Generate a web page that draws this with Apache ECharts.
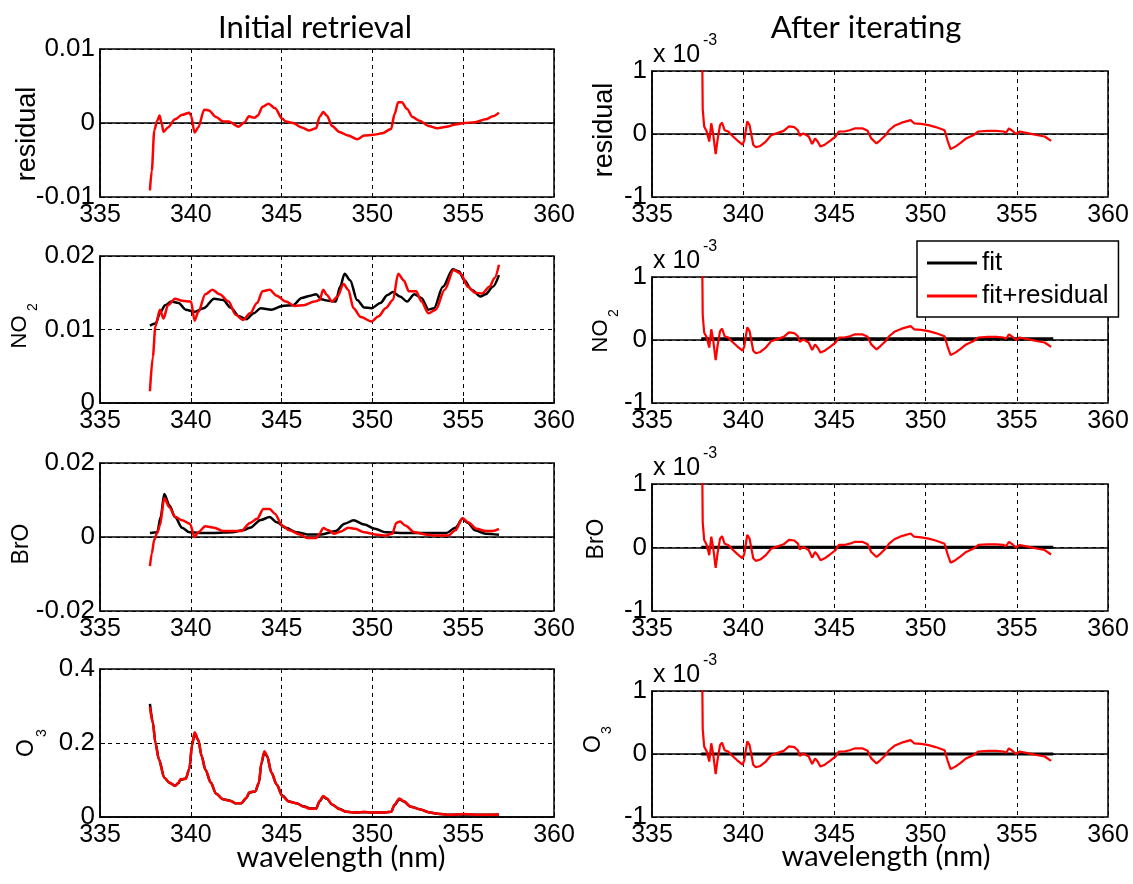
<!DOCTYPE html>
<html><head><meta charset="utf-8">
<script src="https://cdn.jsdelivr.net/npm/echarts@6/dist/echarts.min.js"></script>
<style>html,body{margin:0;padding:0;background:#fff}#c{width:1133px;height:884px}</style>
</head><body><div id="c"></div>
<script>
// ---------------- data ----------------
const xMin = 335, xMax = 360, xStep = 5;
// y ranges [min, max, interval] for the left ("Initial retrieval") panels
const yRangeResInit = [-0.01, 0.01, 0.01];
const yRangeNO2Init = [0, 0.02, 0.01];
const yRangeBrOInit = [-0.02, 0.02, 0.02];
const yRangeO3Init = [0, 0.4, 0.2];
// right panels are in units of 1e-3
const yRangeAfter = [-1, 1, 1];

const wlResInit = [337.75,337.85,337.99,338.15,338.28,338.38,338.5,338.74,339.13,339.52,339.92,340.01,340.21,340.41,340.74,341.0,341.39,341.78,342.08,342.63,342.96,343.2,343.5,343.69,343.95,344.28,344.64,345.03,345.23,345.62,346.11,346.5,346.9,347.09,347.29,347.49,347.78,348.18,348.67,349.16,349.55,350.04,350.54,351.03,351.22,351.42,351.62,351.91,352.21,352.6,353.09,353.58,354.08,354.57,355.06,355.65,356.24,356.63,356.97];
const resInit = [-0.0091,-0.0065,-0.001,0.0003,0.001,0.0001,-0.0012,-0.0006,0.0005,0.0011,0.0014,0.001,-0.0013,-0.0006,0.0018,0.0017,0.0008,0.0002,0.0002,-0.0005,0.0001,0.0009,0.0007,0.001,0.0022,0.0026,0.002,0.0006,0.0002,0,-0.0006,-0.001,-0.0007,0.0008,0.0015,0.001,-0.0004,-0.0012,-0.0017,-0.0022,-0.0017,-0.0016,-0.0014,-0.0008,0.0012,0.0028,0.0028,0.0019,0.0008,0.0003,-0.0004,-0.0007,-0.0005,-0.0002,0,0.0001,0.0005,0.0009,0.0014];

const wlNO2Fit = [337.75,338.05,338.34,338.58,338.93,339.33,339.72,340.21,340.7,341.29,341.78,342.18,342.67,343.06,343.46,343.85,344.44,345.03,345.62,346.11,346.6,346.9,347.19,347.59,347.98,348.22,348.47,348.77,349.16,349.55,349.95,350.44,350.83,351.13,351.52,351.91,352.31,352.7,353.09,353.39,353.88,354.43,354.77,355.06,355.46,355.95,356.24,356.63,356.97];
const no2Fit = [0.01054,0.0108,0.0124,0.0133,0.0138,0.0136,0.0127,0.0124,0.0129,0.0142,0.014,0.013,0.0118,0.0114,0.0122,0.0129,0.0127,0.0132,0.0133,0.0143,0.0146,0.0148,0.0141,0.0139,0.0138,0.0158,0.0176,0.0167,0.014,0.013,0.0129,0.0136,0.0147,0.0151,0.0145,0.0138,0.0148,0.0143,0.0127,0.0129,0.0158,0.0182,0.0179,0.0167,0.0154,0.0145,0.0148,0.0158,0.0174];
const wlNO2Res = [337.75,337.91,338.05,338.3,338.5,338.74,339.13,339.52,340.01,340.21,340.41,340.8,341.19,341.59,342.08,342.47,342.87,343.26,343.65,343.95,344.34,344.73,345.23,345.72,346.21,346.8,347.09,347.29,347.49,347.78,348.08,348.41,348.67,348.96,349.36,349.95,350.34,350.73,351.13,351.42,351.72,352.01,352.41,352.7,353.09,353.49,353.98,354.47,354.86,355.26,355.65,356.04,356.44,356.73,356.97];
const no2Res = [0.0016,0.0063,0.0104,0.0127,0.0115,0.0133,0.0142,0.0139,0.0138,0.0112,0.0124,0.0148,0.0154,0.0148,0.0138,0.012,0.0113,0.0122,0.0136,0.0152,0.0154,0.0146,0.0138,0.0132,0.0133,0.0138,0.014,0.0154,0.0147,0.0138,0.0145,0.0162,0.0154,0.0129,0.0117,0.0111,0.0118,0.0129,0.014,0.0176,0.0167,0.0152,0.0152,0.0138,0.0122,0.0127,0.0154,0.0181,0.0176,0.0158,0.015,0.0149,0.0158,0.017,0.0188];

const wlBrOFit = [337.75,338.15,338.34,338.54,338.83,339.13,339.52,339.92,340.51,341.29,342.28,342.87,343.26,343.85,344.34,344.73,345.23,345.82,346.41,347.19,347.98,348.47,348.96,349.55,350.14,350.73,351.52,353.09,354.08,354.57,354.96,355.26,355.65,356.24,356.97];
const broFit = [0.0011,0.0013,0.0054,0.0116,0.0085,0.0054,0.0025,0.0013,0.0011,0.0011,0.0013,0.0018,0.0025,0.0046,0.0054,0.004,0.0025,0.0013,0.0007,0.0007,0.0016,0.0036,0.0045,0.0034,0.0022,0.0013,0.0011,0.0011,0.0011,0.0025,0.0049,0.0038,0.0018,0.0009,0.0006];
const wlBrORes = [337.75,337.85,337.99,338.15,338.3,338.54,338.83,339.13,339.52,339.95,340.21,340.41,340.8,341.29,341.78,342.77,343.26,343.65,344.0,344.34,344.63,345.03,345.42,346.01,346.41,346.9,347.09,347.29,347.59,347.88,348.28,348.67,349.06,349.55,350.14,350.73,351.09,351.32,351.52,351.81,352.31,352.9,353.49,354.18,354.57,354.96,355.26,355.75,356.24,356.63,356.97];
const broRes = [-0.0079,-0.0045,-0.0007,0.0011,0.0031,0.0105,0.008,0.0055,0.0045,0.0036,0,0.0013,0.0029,0.0025,0.0016,0.0016,0.0038,0.0049,0.0076,0.0076,0.0063,0.0031,0.0018,0.0007,-0.0003,-0.0003,0.0009,0.0024,0.0018,0.0009,0.0015,0.0025,0.0022,0.0013,0.0007,0.0004,0.0009,0.0038,0.0042,0.0031,0.0013,0.0007,0.0004,0.0004,0.0018,0.0051,0.004,0.0022,0.0016,0.0016,0.0022];

const wlO3 = [337.75,337.91,338.05,338.24,338.54,338.83,339.13,339.33,339.42,339.72,339.92,340.07,340.21,340.41,340.6,340.8,341.1,341.39,341.78,342.18,342.47,342.77,343.06,343.22,343.55,343.75,343.89,344.05,344.2,344.44,344.73,345.03,345.42,345.82,346.21,346.6,346.9,347.09,347.29,347.49,347.78,348.18,348.57,349.16,349.55,349.95,350.54,351.03,351.22,351.48,351.72,352.11,352.6,353.09,353.58,354.27,355.06,355.85,356.97];
const o3Fit = [0.306,0.256,0.201,0.157,0.106,0.092,0.085,0.092,0.1,0.104,0.13,0.194,0.226,0.208,0.164,0.128,0.093,0.063,0.048,0.044,0.037,0.037,0.051,0.066,0.069,0.092,0.145,0.175,0.164,0.12,0.088,0.058,0.042,0.037,0.029,0.023,0.023,0.042,0.055,0.049,0.034,0.022,0.014,0.012,0.013,0.012,0.012,0.014,0.032,0.048,0.042,0.028,0.021,0.013,0.009,0.006,0.007,0.006,0.007];
const o3Res = [0.298,0.254,0.2,0.156,0.106,0.093,0.084,0.093,0.102,0.103,0.13,0.196,0.229,0.209,0.164,0.129,0.093,0.063,0.048,0.043,0.037,0.037,0.052,0.067,0.069,0.093,0.147,0.178,0.166,0.12,0.088,0.057,0.041,0.037,0.028,0.022,0.022,0.043,0.057,0.05,0.034,0.021,0.014,0.012,0.014,0.012,0.012,0.014,0.034,0.05,0.043,0.028,0.021,0.013,0.009,0.006,0.008,0.006,0.007];

// After iterating (x 1e-3)
const wlResAfter = [337.70,337.78,337.86,338.0,338.14,338.25,338.35,338.49,338.59,338.73,338.84,338.98,339.18,339.37,339.67,339.96,340.06,340.22,340.35,340.55,340.69,340.94,341.24,341.53,341.82,342.22,342.51,342.8,343.0,343.1,343.29,343.59,343.78,343.94,344.08,344.24,344.47,344.76,345.06,345.25,345.55,345.84,346.14,346.53,346.82,347.02,347.31,347.51,347.8,348.0,348.29,348.69,349.18,349.37,349.76,350.16,350.55,351.04,351.2,351.37,351.63,351.92,352.22,352.61,352.9,353.39,353.88,354.27,354.41,354.57,354.8,354.96,355.16,355.65,356.14,356.53,356.88];
const resAfter = [3.0,0.4,0.12,0.04,-0.12,0.17,0.01,-0.32,-0.1,0.14,0.18,0.06,0.04,-0.02,-0.1,-0.17,-0.1,0.2,0.14,-0.17,-0.21,-0.19,-0.12,-0.02,0.01,0.05,0.12,0.11,0.06,-0.03,0.01,-0.04,-0.16,-0.07,-0.12,-0.2,-0.17,-0.11,-0.04,0.04,0.04,0.06,0.09,0.09,0.05,-0.07,-0.15,-0.1,-0.02,0.06,0.13,0.18,0.22,0.17,0.16,0.14,0.11,0.06,-0.1,-0.24,-0.2,-0.14,-0.07,-0.02,0.04,0.05,0.05,0.04,0.02,0.09,0.04,0,0.04,0.01,-0.02,-0.04,-0.11];
const wlFitAfter = [337.7, 357.0];
const no2FitAfter = [0.02, 0.02];
const broFitAfter = [0.005, 0.005];
const o3FitAfter = [0, 0];

const legendNames = ['fit', 'fit+residual'];

// ---------------- layout ----------------
const FONT = '"Liberation Sans", Arial, sans-serif';
const TFONT = 'Lato, "Open Sans", sans-serif';
const gridsPx = [
  {left:100, top:49,  width:454, height:148},
  {left:100, top:256, width:454, height:147},
  {left:100, top:463, width:454, height:148},
  {left:100, top:669, width:454, height:148},
  {left:652, top:71,  width:456, height:126},
  {left:652, top:277, width:456, height:126},
  {left:652, top:484, width:456, height:127},
  {left:652, top:691, width:456, height:126}
];
const yRanges = [yRangeResInit, yRangeNO2Init, yRangeBrOInit, yRangeO3Init, yRangeAfter, yRangeAfter, yRangeAfter, yRangeAfter];

const pts = (xs, ys) => xs.map((x, i) => [x, ys[i]]);
const dashed = {show:true, lineStyle:{color:'#000', width:1, type:[4,4]}};

const grid = gridsPx.map(g => Object.assign({show:true, borderColor:'#000', borderWidth:1.5, backgroundColor:'#fff', containLabel:false}, g));
const xAxis = gridsPx.map((g, i) => ({
  type:'value', gridIndex:i, min:xMin, max:xMax, interval:xStep,
  axisLine:{show:true, lineStyle:{color:'#000', width:1.5}},
  axisTick:{show:true, inside:true, length:5, lineStyle:{color:'#000'}},
  splitLine:dashed,
  axisLabel:{fontSize:25, fontFamily:FONT, color:'#000', margin:6, showMinLabel:true, showMaxLabel:true}
}));
const yAxis = gridsPx.map((g, i) => ({
  type:'value', gridIndex:i, min:yRanges[i][0], max:yRanges[i][1], interval:yRanges[i][2],
  axisLine:{show:true, lineStyle:{color:'#000', width:1.5}},
  axisTick:{show:true, inside:true, length:5, lineStyle:{color:'#000'}},
  splitLine:dashed,
  axisLabel:{fontSize:26, fontFamily:FONT, color:'#000', margin:5, showMinLabel:true, showMaxLabel:true}
}));

function line(name, xs, ys, g, color, width, smooth) {
  return {name, type:'line', xAxisIndex:g, yAxisIndex:g, data:pts(xs, ys), symbol:'none',
    smooth: smooth ? 0.3 : false, smoothMonotone:'x', clip:true,
    lineStyle:{color, width}, itemStyle:{color}, emphasis:{disabled:true}, silent:true, animation:false};
}
const RED = '#ff0000', BLACK = '#000000';
const series = [
  line('residual', wlResInit, resInit, 0, RED, 2.5, true),
  line('fit', wlNO2Fit, no2Fit, 1, BLACK, 2.5, true),
  line('fit+residual', wlNO2Res, no2Res, 1, RED, 2.5, true),
  line('fit', wlBrOFit, broFit, 2, BLACK, 2.5, true),
  line('fit+residual', wlBrORes, broRes, 2, RED, 2.5, true),
  line('fit', wlO3, o3Fit, 3, BLACK, 2.5, true),
  line('fit+residual', wlO3, o3Res, 3, RED, 2.5, true),
  line('residual', wlResAfter, resAfter, 4, RED, 2.2, false),
  line('fit', wlFitAfter, no2FitAfter, 5, BLACK, 3, false),
  line('fit+residual', wlResAfter, resAfter, 5, RED, 2.2, false),
  line('fit', wlFitAfter, broFitAfter, 6, BLACK, 3, false),
  line('fit+residual', wlResAfter, resAfter, 6, RED, 2.2, false),
  line('fit', wlFitAfter, o3FitAfter, 7, BLACK, 3, false),
  line('fit+residual', wlResAfter, resAfter, 7, RED, 2.2, false)
];

function txt(text, x, y, fs, family, opts) {
  opts = opts || {};
  const align = opts.align || 'center';
  return {type:'text', x, y, rotation: opts.rot || 0, z:100, silent:true,
    style:{text, fill:'#000', font: fs + 'px ' + family, fontSize:fs, fontFamily:family,
      align, textAlign:align, verticalAlign:'middle', textVerticalAlign:'middle'}};
}
const R = Math.PI / 2;
const graphic = [
  txt('Initial retrieval', 315, 28, 31, TFONT),
  txt('After iterating', 866, 28, 31, TFONT),
  txt('wavelength (nm)', 341, 858, 29, TFONT),
  txt('wavelength (nm)', 886, 857, 29, TFONT),
  // y labels
  txt('residual', 28, 134, 27, FONT, {rot:R}),
  txt('NO', 20, 332, 22, FONT, {rot:R}), txt('2', 33, 307, 14, FONT, {rot:R}),
  txt('BrO', 22, 544, 23, FONT, {rot:R}),
  txt('O', 27, 748, 23, FONT, {rot:R}), txt('3', 42, 733, 14, FONT, {rot:R}),
  txt('residual', 605, 130, 27, FONT, {rot:R}),
  txt('NO', 601, 336, 22, FONT, {rot:R}), txt('2', 614, 313, 14, FONT, {rot:R}),
  txt('BrO', 597, 539, 23, FONT, {rot:R}),
  txt('O', 594, 744, 23, FONT, {rot:R}), txt('3', 607, 730, 14, FONT, {rot:R})
];
gridsPx.slice(4).forEach(g => {
  graphic.push(txt('x 10', 653, g.top - 16, 25, FONT, {align:'left'}));
  graphic.push(txt('-3', 703, g.top - 30, 16, FONT, {align:'left'}));
});

const chart = echarts.init(document.getElementById('c'), null, {renderer:'canvas'});
chart.setOption({
  backgroundColor:'#fff', animation:false,
  grid, xAxis, yAxis, series, graphic,
  legend:{data:legendNames, orient:'vertical', left:917, top:241, icon:'rect', itemWidth:50, itemHeight:3,
    itemGap:7, padding:[9,10,8,10], backgroundColor:'#fff', borderColor:'#000', borderWidth:1.5,
    selectedMode:false, z:50, textStyle:{fontSize:26, fontFamily:FONT, color:'#000'}}
});
</script></body></html>
